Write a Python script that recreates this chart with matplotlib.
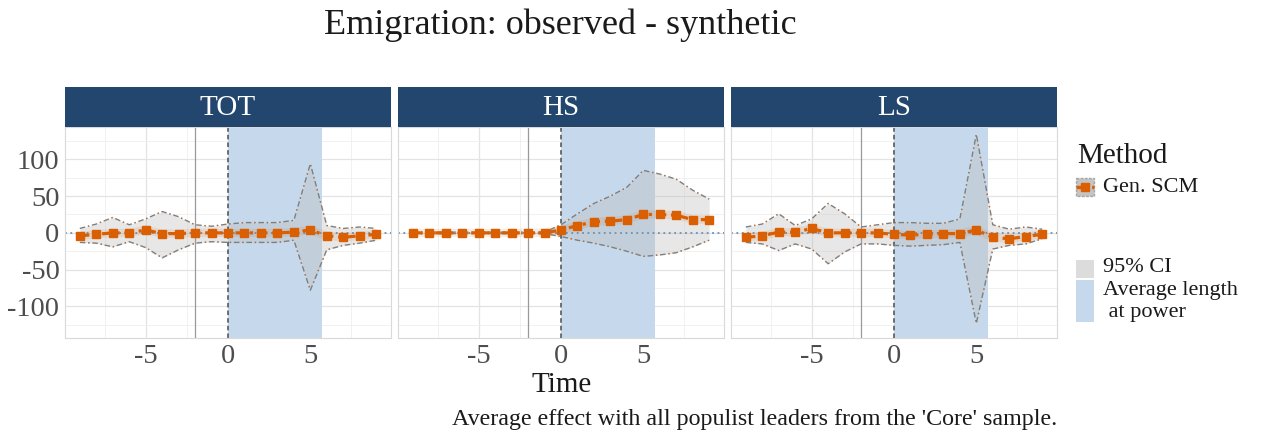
import matplotlib
matplotlib.use("Agg")
import matplotlib.pyplot as plt
import numpy as np
from matplotlib.patches import Rectangle
from matplotlib.lines import Line2D
from matplotlib.ticker import MultipleLocator

plt.rcParams['font.family'] = ['Liberation Serif', 'DejaVu Serif']

time = np.arange(-9, 10)
panels = ["TOT", "HS", "LS"]

tot_est = [-4, -2, 0, 0, 4, -1, -1, 0, 0, 0, 0, 0, 0, 1, 4, -4, -6, -4, -2]
tot_hi = [6, 12, 21, 11, 19, 29, 22, 11, 9, 12, 14, 14, 14, 17, 94, 10, 6, 8, 6]
tot_lo = [-13, -14, -19, -12, -20, -34, -23, -14, -12, -13, -13, -13, -13, -10, -78, -23, -17, -14, -10]

hs_est = [0, 0, 0, 0, 0, 0, 0, 0, 0, 4, 10, 15, 16, 18, 25, 25, 24, 18, 18]
hs_hi = [1, 1, 1, 1, 1, 1, 1, 1, 1, 11, 26, 40, 50, 62, 85, 80, 73, 58, 46]
hs_lo = [-1, -1, -1, -1, -1, -1, -1, -1, -1, -5, -10, -14, -19, -25, -32, -30, -27, -19, -10]

ls_est = [-6, -4, 1, 1, 6, 0, 0, 0, 0, -2, -3, -2, -1, -1, 4, -6, -8, -5, -2]
ls_hi = [8, 12, 26, 10, 19, 40, 26, 8, 11, 14, 14, 13, 13, 19, 134, 11, 5, 8, 5]
ls_lo = [-13, -15, -24, -15, -22, -42, -26, -15, -15, -17, -18, -17, -16, -13, -123, -22, -17, -15, -8]

data = {"TOT": (tot_est, tot_lo, tot_hi),
        "HS": (hs_est, hs_lo, hs_hi),
        "LS": (ls_est, ls_lo, ls_hi)}

power_start, power_end = 0, 5.7
ref_line = -2

W, H = 1265, 433
fig = plt.figure(figsize=(W / 100, H / 100), dpi=100)

orange = "#d95f02"
strip_col = "#22466d"
panel_left = [65, 398, 731]
panel_w = 326
p_top, p_bot = 127, 338
s_top = 87

for i, name in enumerate(panels):
    ax = fig.add_axes([panel_left[i] / W, (H - p_bot) / H, panel_w / W, (p_bot - p_top) / H])
    est, lo, hi = data[name]
    ax.axvspan(power_start, power_end, color="#c6d9ec", zorder=1, lw=0)
    ax.fill_between(time, lo, hi, color="#bdbdbd", alpha=0.35, zorder=2, lw=0)
    ax.plot(time, hi, color="#7f7f7f", ls=(0, (4, 2, 1, 2)), lw=1, zorder=3)
    ax.plot(time, lo, color="#7f7f7f", ls=(0, (4, 2, 1, 2)), lw=1, zorder=3)
    ax.plot(time, hi, color=orange, ls=(3, (1, 8)), lw=1, alpha=0.6, zorder=3)
    ax.plot(time, lo, color=orange, ls=(3, (1, 8)), lw=1, alpha=0.6, zorder=3)
    ax.axhline(0, color="#6a8fb5", ls=(0, (1, 2)), lw=1.3, zorder=2.5)
    ax.axvline(ref_line, color="#9a9a9a", lw=0.9, zorder=2.5)
    ax.axvline(0, color="#4d4d4d", ls=(0, (3, 2)), lw=1.1, zorder=2.5)
    ax.plot(time, est, color=orange, lw=6, alpha=0.12, zorder=4, solid_capstyle="round")
    ax.plot(time, est, color=orange, ls=(0, (3, 1.5, 1, 1.5)), lw=2.3, zorder=5,
            marker="s", ms=6.3, mec=orange, mfc=orange)
    ax.set_xlim(-9.9, 9.9)
    ax.set_ylim(-143, 144)
    ax.xaxis.set_major_locator(MultipleLocator(5))
    ax.xaxis.set_minor_locator(MultipleLocator(2.5))
    ax.yaxis.set_major_locator(MultipleLocator(50))
    ax.yaxis.set_minor_locator(MultipleLocator(25))
    ax.grid(True, which="major", color="#e3e3e3", lw=0.9, zorder=0)
    ax.grid(True, which="minor", color="#efefef", lw=0.6, zorder=0)
    ax.set_axisbelow(True)
    for sp in ax.spines.values():
        sp.set_color("#d9d9d9")
        sp.set_linewidth(0.8)
    ax.tick_params(which="both", length=0, labelsize=20.5, labelcolor="#4d4d4d", pad=4)
    ax.set_xticks([-5, 0, 5])
    ax.set_xticklabels(["-5", "0", "5"])
    if i == 0:
        ax.set_yticks([-100, -50, 0, 50, 100])
        ax.set_yticklabels(["-100", "-50", "0", "50", "100"])
    else:
        ax.tick_params(axis="y", labelleft=False)
    # strip
    sax = fig.add_axes([panel_left[i] / W, (H - p_top) / H, panel_w / W, (p_top - s_top) / H])
    sax.set_facecolor(strip_col)
    sax.set_xticks([]); sax.set_yticks([])
    for sp in sax.spines.values():
        sp.set_visible(False)
    sax.text(0.5, 0.47, name, color="white", fontsize=21, ha="center", va="center",
             transform=sax.transAxes)

fig.text(560 / W, 1 - 25 / H, "Emigration: observed - synthetic", fontsize=26,
         ha="center", va="center", color="#1a1a1a")
fig.text(562 / W, 1 - 385 / H, "Time", fontsize=21, ha="center", va="center", color="#1a1a1a")
fig.text(1057 / W, 1 - 420 / H, "Average effect with all populist leaders from the 'Core' sample.",
         fontsize=17.3, ha="right", va="center", color="#1a1a1a")

# legend
fig.text(1077 / W, 1 - 156 / H, "Method", fontsize=21, ha="left", va="center", color="#1a1a1a")
lax = fig.add_axes([0, 0, 1, 1], facecolor="none")
lax.set_xlim(0, W); lax.set_ylim(H, 0)
lax.axis("off")
lax.add_patch(Rectangle((1076, 178), 18, 18, facecolor="#9e9e9e", alpha=0.6,
                        edgecolor="#7f7f7f", ls=(0, (2, 1)), lw=1))
lax.add_line(Line2D([1076, 1094], [187, 187], color=orange, lw=2.5, ls=(0, (3, 1.5, 1, 1.5))))
lax.plot([1085], [187], marker="s", ms=6, color=orange)
lax.text(1103, 187, "Gen. SCM", fontsize=16, va="center", ha="left", color="#1a1a1a")
lax.add_patch(Rectangle((1076, 260), 18, 18, facecolor="#dcdcdc", edgecolor="none"))
lax.add_patch(Rectangle((1076, 280), 18, 42, facecolor="#c6d9ec", edgecolor="none"))
lax.text(1103, 268, "95% CI", fontsize=16, va="center", ha="left", color="#1a1a1a")
lax.text(1103, 290, "Average length", fontsize=16, va="center", ha="left", color="#1a1a1a")
lax.text(1103, 312, " at power", fontsize=16, va="center", ha="left", color="#1a1a1a")

fig.savefig("out.png", dpi=100)
